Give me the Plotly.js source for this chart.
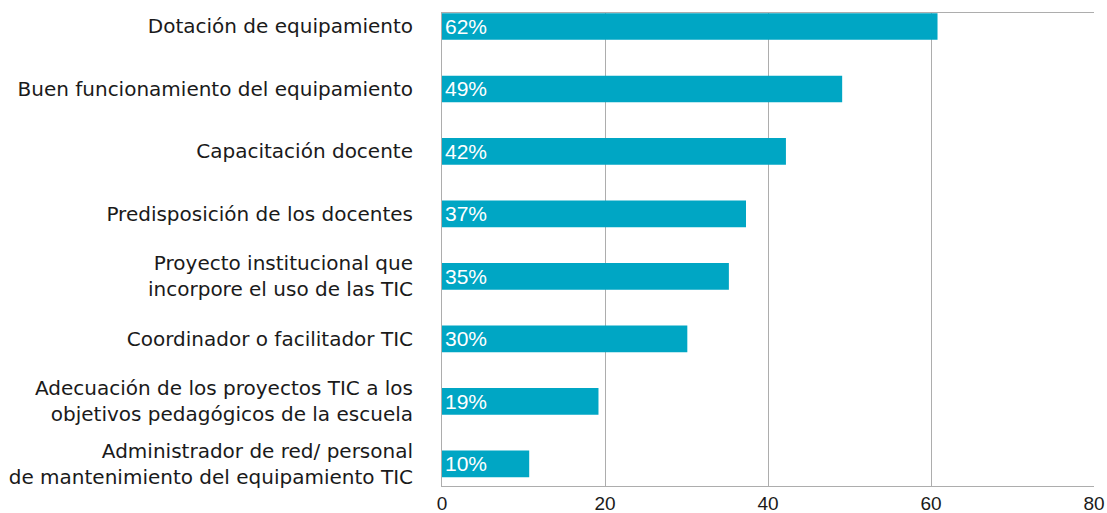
<!DOCTYPE html>
<html>
<head>
<meta charset="utf-8">
<script src="https://cdn.plot.ly/plotly-3.0.1.min.js"></script>
<style>html,body{margin:0;padding:0;background:#fff;}#chart{width:1107px;height:513px;}</style>
</head>
<body>
<div id="chart"></div>
<script>
const categories = [
  "Dotación de equipamiento",
  "Buen funcionamiento del equipamiento",
  "Capacitación docente",
  "Predisposición de los docentes",
  "Proyecto institucional que<br>incorpore el uso de las TIC",
  "Coordinador o facilitador TIC",
  "Adecuación de los proyectos TIC a los<br>objetivos pedagógicos de la escuela",
  "Administrador de red/ personal<br>de mantenimiento del equipamiento TIC"
];
const values = [60.8, 49.1, 42.2, 37.3, 35.2, 30.1, 19.2, 10.7];
const valueLabels = ["62%", "49%", "42%", "37%", "35%", "30%", "19%", "10%"];
const xTicks = [0, 20, 40, 60, 80];

const trace = {
  type: 'bar',
  orientation: 'h',
  y: categories,
  x: values,
  text: valueLabels,
  textposition: 'inside',
  insidetextanchor: 'start',
  constraintext: 'none',
  textfont: {family: 'Liberation Sans, Arial, sans-serif', size: 21, color: '#ffffff'},
  marker: {color: '#00a6c4', line: {width: 0}},
  hoverinfo: 'none',
  cliponaxis: false
};

const layout = {
  width: 1107,
  height: 513,
  margin: {l: 442, r: 13, t: 13, b: 27, pad: 0},
  paper_bgcolor: '#ffffff',
  plot_bgcolor: '#ffffff',
  showlegend: false,
  bargap: 0.573,
  font: {family: 'DejaVu Sans, sans-serif', color: '#1a1a1a'},
  xaxis: {
    range: [0, 80],
    tickvals: xTicks,
    ticktext: xTicks.map(String),
    showgrid: true,
    gridcolor: '#adadad',
    gridwidth: 1,
    zeroline: false,
    showline: true,
    linecolor: '#adadad',
    linewidth: 1,
    mirror: true,
    ticks: '',
    tickfont: {family: 'Liberation Sans, Arial, sans-serif', size: 19, color: '#1a1a1a'},
    fixedrange: true
  },
  yaxis: {
    type: 'category',
    categoryorder: 'array',
    categoryarray: categories,
    range: [7.355, -0.216],
    showgrid: false,
    zeroline: false,
    showline: true,
    linecolor: '#adadad',
    linewidth: 1,
    ticks: '',
    ticklabelstandoff: 24,
    tickfont: {family: 'DejaVu Sans, sans-serif', size: 20, color: '#1a1a1a'},
    fixedrange: true
  }
};

Plotly.newPlot('chart', [trace], layout, {staticPlot: true, displayModeBar: false});
</script>
</body>
</html>
